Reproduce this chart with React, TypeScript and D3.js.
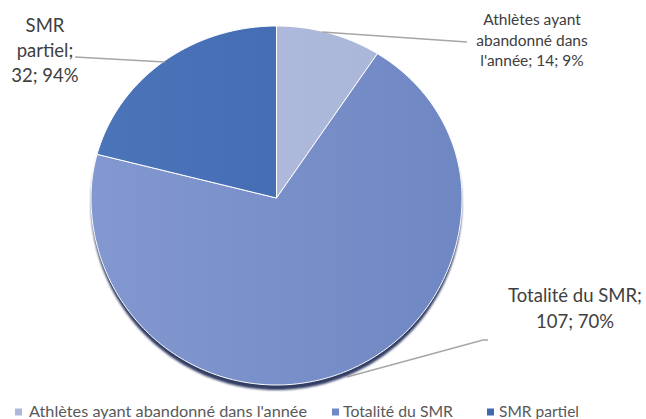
import React from "react";
import * as d3 from "d3";

const categories = ["Athlètes ayant abandonné dans l'année", "Totalité du SMR", "SMR partiel"];
const values = [14, 107, 32];
const labelLines = [
  ["Athlètes ayant", "abandonné dans", "l'année; 14; 9%"],
  ["Totalité du SMR;", "107; 70%"],
  ["SMR", "partiel;", "32; 94%"],
];
const colorsLeft = ["#b2bddd", "#8398d0", "#4b74b9"];
const colorsRight = ["#a9b5d8", "#6f87c3", "#3e67b0"];
const legendColors = ["#aeb9da", "#7189c5", "#4169b2"];

const W = 646;
const H = 419;
const cx = 276.5;
const cy = 198;
const rx = 185.5;
const ryTop = 172;
const ryBot = 187;

function project(a: number, k = 1): [number, number] {
  const s = Math.sin(a);
  const c = Math.cos(a);
  return [cx + rx * k * s, cy - (c > 0 ? ryTop : ryBot) * k * c];
}

function slicePath(a0: number, a1: number): string {
  const n = Math.max(8, Math.ceil(((a1 - a0) * 180) / Math.PI));
  const pts: [number, number][] = [[cx, cy]];
  for (let i = 0; i <= n; i++) pts.push(project(a0 + ((a1 - a0) * i) / n));
  return (d3.line()(pts) || "") + "Z";
}

export default function App() {
  const pie = d3.pie<number>().sort(null).value((d) => d);
  const arcs = pie(values);
  const full = slicePath(0, Math.PI * 2);
  const textColor = "#404040";
  const font = "Lato, 'Open Sans', sans-serif";

  const labels = [
    { x: 532, y0: 25, dy: 20.5, size: 15.5, leader: [[322, 32], [467, 42]] },
    { x: 575, y0: 302, dy: 26, size: 18.5, leader: [[347, 377], [483, 340], [488, 340]] },
    { x: 45, y0: 32, dy: 25, size: 18.5, leader: [[165, 62], [75, 57]] },
  ];

  const legendItems = [
    { sx: 15, tx: 29, w: 278 },
    { sx: 332, tx: 343, w: 110 },
    { sx: 487, tx: 499, w: 80 },
  ];

  return (
    <svg width={W} height={H} style={{ position: "absolute", left: 0, top: 0, background: "#fff" }}>
      <defs>
        {arcs.map((_, i) => (
          <linearGradient key={i} id={`g${i}`} gradientUnits="userSpaceOnUse" x1={cx - rx} y1={0} x2={cx + rx} y2={0}>
            <stop offset="0" stopColor={colorsLeft[i]} />
            <stop offset="1" stopColor={colorsRight[i]} />
          </linearGradient>
        ))}
        <filter id="blur" x="-10%" y="-10%" width="120%" height="120%">
          <feGaussianBlur stdDeviation="0.8" />
        </filter>
      </defs>
      <path d={full} transform="translate(0,5)" fill="#323d63" filter="url(#blur)" />
      {arcs.map((a, i) => (
        <path key={i} d={slicePath(a.startAngle, a.endAngle)} fill={`url(#g${i})`} stroke="#ffffff" strokeWidth={1} strokeLinejoin="round" />
      ))}
      {labels.map((l, i) => (
        <g key={i}>
          <polyline points={l.leader.map((p) => p.join(",")).join(" ")} fill="none" stroke="#a6a6a6" strokeWidth={1.3} />
          {labelLines[i].map((t, j) => (
            <text key={j} x={l.x} y={l.y0 + j * l.dy} textAnchor="middle" fontFamily={font} fontSize={l.size} fill={textColor}>
              {t}
            </text>
          ))}
        </g>
      ))}
      {categories.map((c, i) => (
        <g key={i}>
          <rect x={legendItems[i].sx} y={408.5} width={7} height={7} fill={legendColors[i]} />
          <text
            x={legendItems[i].tx}
            y={417}
            fontFamily={font}
            fontSize={16}
            fill="#595959"
            textLength={legendItems[i].w}
            lengthAdjust="spacingAndGlyphs"
          >
            {c}
          </text>
        </g>
      ))}
    </svg>
  );
}
